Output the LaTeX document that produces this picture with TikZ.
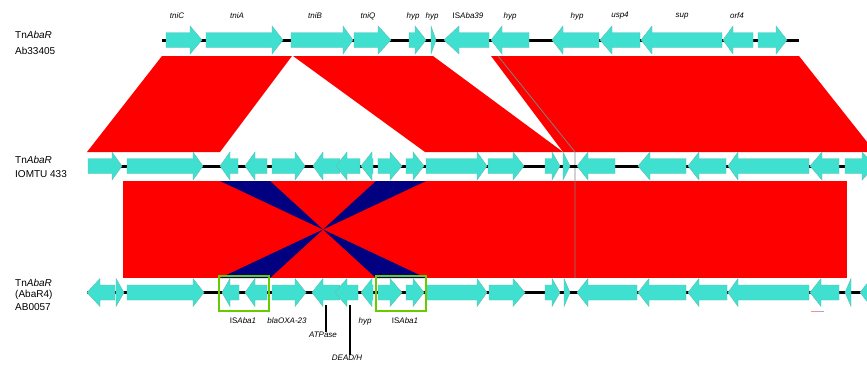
\documentclass[tikz,border=0pt]{standalone}
\usepackage{fontspec}
\setmainfont{Liberation Sans}
\definecolor{genefill}{HTML}{40E0D0}
\definecolor{geneedge}{HTML}{5FBDB3}
\definecolor{hitred}{HTML}{FF0000}
\definecolor{hitblue}{HTML}{000080}
\definecolor{boxgreen}{HTML}{66CC00}
% forward gene: start, head start, tip, track y
\newcommand\generight[4]{%
  \filldraw[genestyle] (#1,#4-7.5) -- (#2,#4-7.5) -- (#2,#4-14) -- (#3,#4)
    -- (#2,#4+14) -- (#2,#4+7.5) -- (#1,#4+7.5) -- cycle;}
% reverse gene: tip, head end, body end, track y
\newcommand\geneleft[4]{%
  \filldraw[genestyle] (#3,#4-7.5) -- (#2,#4-7.5) -- (#2,#4-14) -- (#1,#4)
    -- (#2,#4+14) -- (#2,#4+7.5) -- (#3,#4+7.5) -- cycle;}
\tikzset{
  genestyle/.style={fill=genefill, draw=geneedge, line width=0.4pt, line join=miter},
  backbone/.style={line width=3pt, black},
  redhit/.style={fill=hitred},
  bluehit/.style={fill=hitblue},
  isbox/.style={draw=boxgreen, line width=2pt},
  trackname/.style={anchor=west, font=\fontsize{10}{12}\selectfont, inner sep=0pt},
  genelabel/.style={font=\fontsize{8}{10}\selectfont\itshape, inner sep=0pt},
  pointer/.style={line width=1.2pt, black}
}
\begin{document}
\begin{tikzpicture}[x=1pt, y=-1pt]
\useasboundingbox (0,0) rectangle (867,365);
\clip (0,0) rectangle (867,365);

% ---- similarity blocks between Ab33405 and IOMTU 433
\fill[redhit] (162,56) -- (292,56) -- (220,152) -- (87,152) -- cycle;
\fill[redhit] (293,56) -- (433,56) -- (563,152) -- (425,152) -- cycle;
\fill[redhit] (491,56) -- (799,56) -- (875,152) -- (563,152) -- cycle;

% ---- similarity blocks between IOMTU 433 and AB0057
\fill[redhit] (123,181) rectangle (847,278);
\coordinate (pinch) at (323,229.5);
\fill[bluehit] (220,181) -- (270,181) -- (pinch) -- cycle;
\fill[bluehit] (376,181) -- (426,181) -- (pinch) -- cycle;
\fill[bluehit] (220,278) -- (270,278) -- (pinch) -- cycle;
\fill[bluehit] (376,278) -- (426,278) -- (pinch) -- cycle;

% thin grey link
\draw[gray, line width=0.8pt] (498,56) -- (575,152) -- (575,278);

% ---- backbones
\draw[backbone] (162,40) -- (799,40);
\draw[backbone] (88,166) -- (867,166);
\draw[backbone] (87,292.5) -- (867,292.5);

% ---- track 1: TnAbaR Ab33405
\generight{166}{190}{202}{40}
\generight{206}{272}{283}{40}
\generight{291}{343}{353}{40}
\generight{354}{378}{391}{40}
\generight{409}{415}{426}{40}
\generight{431}{431}{436}{40}
\geneleft{444}{459}{489}{40}
\geneleft{491}{502}{529}{40}
\geneleft{552}{563}{599}{40}
\geneleft{600}{612}{640}{40}
\geneleft{641}{652}{722}{40}
\geneleft{723}{733}{753}{40}
\generight{758}{776}{787}{40}

% ---- track 2: TnAbaR IOMTU 433
\generight{88}{112}{122}{166}
\generight{127}{193}{203}{166}
\geneleft{220}{230}{238}{166}
\geneleft{245}{255}{267}{166}
\generight{272}{295}{305}{166}
\geneleft{313}{323}{340}{166}
\geneleft{336}{347}{360}{166}
\geneleft{361}{372}{373}{166}
\generight{378}{390}{402}{166}
\generight{406}{413}{424}{166}
\generight{426}{477}{487}{166}
\generight{488}{513}{524}{166}
\generight{545}{552}{560}{166}
\generight{563}{563}{570}{166}
\geneleft{577}{588}{615}{166}
\geneleft{638}{650}{686}{166}
\geneleft{688}{699}{726}{166}
\geneleft{728}{738}{809}{166}
\geneleft{810}{822}{839}{166}
\generight{845}{862}{875}{166}

% ---- track 3: TnAbaR (AbaR4) AB0057
\geneleft{87}{100}{115}{292.5}
\generight{116}{116}{124}{292.5}
\generight{127}{193}{204}{292.5}
\geneleft{222}{230}{239}{292.5}
\geneleft{245}{255}{267}{292.5}
\generight{272}{295}{306}{292.5}
\geneleft{312}{323}{340}{292.5}
\geneleft{335}{347}{358}{292.5}
\geneleft{361}{372}{373}{292.5}
\generight{378}{390}{402}{292.5}
\generight{406}{413}{424}{292.5}
\generight{427}{477}{487}{292.5}
\generight{489}{513}{525}{292.5}
\generight{545}{552}{560}{292.5}
\generight{564}{564}{570}{292.5}
\geneleft{577}{588}{637}{292.5}
\geneleft{638}{649}{686}{292.5}
\geneleft{688}{699}{727}{292.5}
\geneleft{728}{738}{809}{292.5}
\geneleft{810}{821}{839}{292.5}
\geneleft{845}{851}{851}{292.5}
\geneleft{860}{871}{890}{292.5}

% ---- ISAba1 boxes
\draw[isbox] (219,276) rectangle (269,311);
\draw[isbox] (376,276) rectangle (426,311);

% ---- track names
\node[trackname] (n1a) at (15,35) {Tn\textit{AbaR}};
\node[trackname] (n1b) at (15,50.5) {Ab33405};
\node[trackname] (n2a) at (15,160) {Tn\textit{AbaR}};
\node[trackname] (n2b) at (15,174) {IOMTU 433};
\node[trackname] (n3a) at (15,282.5) {Tn\textit{AbaR}};
\node[trackname] (n3b) at (15,295) {(AbaR4)};
\node[trackname] (n3c) at (15,307.5) {AB0057};

% ---- gene names, track 1
\node[genelabel] (tniC) at (177,16) {tniC};
\node[genelabel] (tniA) at (237,16) {tniA};
\node[genelabel] (tniB) at (315,16) {tniB};
\node[genelabel] (tniQ) at (368,16) {tniQ};
\node[genelabel] (hypa) at (413,16) {hyp};
\node[genelabel] (hypb) at (432,16) {hyp};
\node[genelabel] (isa39) at (468,16) {\upshape IS\textit{Aba39}};
\node[genelabel] (hypc) at (510,16) {hyp};
\node[genelabel] (hypd) at (577,16) {hyp};
\node[genelabel] (usp4) at (620,16) {usp4};
\node[genelabel] (sup) at (682,16) {sup};
\node[genelabel] (orf4) at (737,16) {orf4};

% ---- gene names, track 3
\node[genelabel] (isa1a) at (243,321) {\upshape IS\textit{Aba1}};
\node[genelabel] (oxa) at (287,321) {blaOXA-23};
\node[genelabel] (hype) at (365,321) {hyp};
\node[genelabel] (isa1b) at (405,321) {\upshape IS\textit{Aba1}};
\node[genelabel] (atp) at (323,335) {ATPase};
\node[genelabel] (dead) at (347,358) {DEAD/H};
\coordinate (atpgene) at (326,305);
\coordinate (deadgene) at (350,305);
\draw[pointer] (atpgene) -- (atpgene |- atp.north);
\draw[pointer] (deadgene) -- (deadgene |- dead.north);

% small key fragment
\draw[hitred!45, line width=0.8pt] (811,311) -- (818,311);
\draw[hitblue!35, line width=0.8pt] (818,311) -- (824,311);
\end{tikzpicture}
\end{document}
